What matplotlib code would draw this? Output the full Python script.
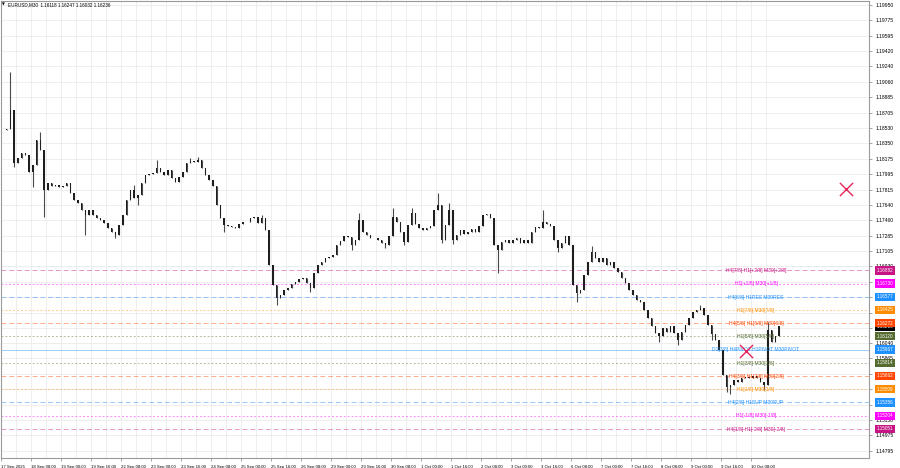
import numpy as np
import matplotlib
matplotlib.use("Agg")
import matplotlib.pyplot as plt
import matplotlib.transforms as mtransforms

# EURUSD, rebuilt as 2-hour bars (closes)
closes = [
    1.18505, 1.18517, 1.18736, 1.18124, 1.18182, 1.18239, 1.18216, 1.18020, 1.18101, 1.18390,
    1.18274, 1.17812, 1.17893, 1.17858, 1.17869, 1.17846, 1.17858, 1.17893, 1.17777, 1.17696,
    1.17661, 1.17580, 1.17523, 1.17580, 1.17523, 1.17488, 1.17465, 1.17430, 1.17372, 1.17326,
    1.17291, 1.17407, 1.17523, 1.17696, 1.17812, 1.17719, 1.17754, 1.17893, 1.17985, 1.17997,
    1.18008, 1.18066, 1.18020, 1.17985, 1.18043, 1.17950, 1.17904, 1.17962, 1.18020, 1.18124,
    1.18147, 1.18135, 1.18158, 1.18066, 1.17985, 1.17927, 1.17858, 1.17638, 1.17488, 1.17407,
    1.17395, 1.17384, 1.17372, 1.17419, 1.17442, 1.17442, 1.17488, 1.17500, 1.17430, 1.17488,
    1.17349, 1.16945, 1.16713, 1.16563, 1.16598, 1.16656, 1.16679, 1.16725, 1.16748, 1.16783,
    1.16794, 1.16737, 1.16679, 1.16852, 1.16945, 1.16979, 1.17026, 1.17037, 1.17060, 1.17176,
    1.17222, 1.17280, 1.17268, 1.17176, 1.17234, 1.17465, 1.17326, 1.17291, 1.17257, 1.17257,
    1.17234, 1.17199, 1.17176, 1.17280, 1.17500, 1.17442, 1.17326, 1.17211, 1.17407, 1.17546,
    1.17419, 1.17372, 1.17349, 1.17372, 1.17395, 1.17580, 1.17638, 1.17234, 1.17407, 1.17580,
    1.17234, 1.17291, 1.17349, 1.17303, 1.17326, 1.17361, 1.17326, 1.17395, 1.17523, 1.17534,
    1.17488, 1.17176, 1.17118, 1.17211, 1.17234, 1.17199, 1.17234, 1.17257, 1.17199, 1.17234,
    1.17199, 1.17326, 1.17384, 1.17372, 1.17442, 1.17419, 1.17395, 1.17234, 1.17141, 1.17199,
    1.17280, 1.17176, 1.16713, 1.16621, 1.16656, 1.16829, 1.16979, 1.17095, 1.17026, 1.16979,
    1.17026, 1.16945, 1.16979, 1.16910, 1.16864, 1.16794, 1.16737, 1.16656, 1.16598, 1.16540,
    1.16517, 1.16424, 1.16332, 1.16239, 1.16159, 1.16124, 1.16216, 1.16170, 1.16239, 1.16159,
    1.16078, 1.16170, 1.16251, 1.16332, 1.16401, 1.16424, 1.16448, 1.16367, 1.16251, 1.16147,
    1.16078, 1.15962, 1.15673, 1.15534, 1.15557, 1.15615, 1.15592, 1.15638, 1.15650, 1.15638,
    1.15661, 1.15638, 1.15592, 1.15557, 1.16193, 1.16055, 1.16124, 1.16236,
]
first_open = 1.18500

# wick extremes that stick out beyond the bodies
spike_highs = [(2, 1.19176), (10, 1.18482), (35, 1.17869), (41, 1.18158), (50, 1.18182),
               (52, 1.18193), (69, 1.17523), (95, 1.17546), (104, 1.17604), (109, 1.17604),
               (116, 1.17777), (119, 1.17661), (144, 1.17580), (157, 1.17164), (186, 1.16482),
               (204, 1.16286)]
spike_lows = [(3, 1.18077), (8, 1.17846), (11, 1.17500), (22, 1.17291), (30, 1.17257),
              (36, 1.17638), (59, 1.17326), (73, 1.16482), (82, 1.16632), (93, 1.17118),
              (102, 1.17141), (107, 1.17176), (117, 1.17199), (120, 1.17187), (132, 1.16852),
              (148, 1.17095), (153, 1.16517), (175, 1.16055), (180, 1.16020), (189, 1.16078),
              (193, 1.15476), (194, 1.15453), (203, 1.15500)]

time_labels = ["17 Sep 2025", "18 Sep 08:00", "19 Sep 00:00", "19 Sep 16:00", "22 Sep 08:00",
               "23 Sep 00:00", "23 Sep 16:00", "24 Sep 08:00", "25 Sep 00:00", "25 Sep 16:00",
               "26 Sep 08:00", "29 Sep 00:00", "29 Sep 16:00", "30 Sep 08:00", "1 Oct 00:00",
               "1 Oct 16:00", "2 Oct 08:00", "3 Oct 00:00", "3 Oct 16:00", "6 Oct 08:00",
               "7 Oct 00:00", "7 Oct 16:00", "8 Oct 08:00", "9 Oct 00:00", "9 Oct 16:00",
               "10 Oct 08:00"]

price_ticks = [1.19950, 1.19775, 1.19595, 1.19420, 1.19240, 1.19060, 1.18885, 1.18705,
               1.18530, 1.18350, 1.18175, 1.17995, 1.17815, 1.17640, 1.17460, 1.17285,
               1.17105, 1.16930, 1.16750, 1.16570, 1.16395, 1.16215, 1.16040, 1.15865,
               1.15685, 1.15510, 1.15330, 1.15150, 1.14975, 1.14795]
# ticks whose labels sit under the coloured price boxes
hidden_ticks = [1.16570, 1.16395, 1.16215, 1.15510, 1.15330]

# murrey-style levels
level_prices = [1.16882, 1.16730, 1.16577, 1.16425, 1.16272, 1.16120, 1.15967,
                1.15814, 1.15662, 1.15509, 1.15356, 1.15204, 1.15051]
level_names = ["H4[7/8] H1[+2/8] M30[+2/8]", "H1[+1/8] M30[+1/8]", "H4[6/8] H1RES M30RES",
               "H1[7/8] M30[7/8]", "H4[5/8] H1[6/8] M30[6/8]", "H1[5/8] M30[5/8]",
               "D1[3/8] H4PIVOT H1PIVOT M30PIVOT", "H1[3/8] M30[3/8]",
               "H4[3/8] H1[2/8] M30[2/8]", "H1[1/8] M30[1/8]", "H4[2/8] H1SUP M30SUP",
               "H1[-1/8] M30[-1/8]", "H4[1/8] H1[-2/8] M30[-2/8]"]
level_colors = ["#C71585", "#FF00FF", "#1E90FF", "#FF8C00", "#FF4500", "#556B2F", "#1E90FF",
                "#556B2F", "#FF4500", "#FF8C00", "#1E90FF", "#FF00FF", "#C71585"]
level_styles = [(0, (5, 3)), (0, (2, 2)), (0, (5, 3)), (0, (2, 2)), (0, (5, 3)), (0, (2, 2)), "-",
                (0, (2, 2)), (0, (5, 3)), (0, (2, 2)), (0, (5, 3)), (0, (2, 2)), (0, (5, 3))]

signal_bars = [198.2, 224.8]
signal_prices = [1.15950, 1.17823]

header = "EURUSD,M30  1.16118 1.16247 1.16032 1.16236"
last_price = 1.16236

W, H = 900, 468
fig = plt.figure(figsize=(W / 100, H / 100), dpi=100)
ax = fig.add_axes([1 / W, 10 / H, 868 / W, 457 / H])
ax.set_facecolor("white")

x = np.arange(len(closes))
c = np.array(closes)
o = np.concatenate([[first_open], c[:-1]])
hi = np.maximum(o, c)
lo = np.minimum(o, c)
for i, v in spike_highs:
    hi[i] = max(hi[i], v)
for i, v in spike_lows:
    lo[i] = min(lo[i], v)

ax.vlines(x, lo, hi, color="#4a4a4a", lw=0.8, zorder=4)
body_h = np.maximum(np.abs(c - o), 0.00004)
ax.bar(x, body_h, bottom=np.minimum(o, c), width=0.42, color="#1e1e1e",
       linewidth=0, zorder=5)

blend = mtransforms.blended_transform_factory(ax.transAxes, ax.transData)
for p, col, ls, name in zip(level_prices, level_colors, level_styles, level_names):
    ax.axhline(p, color=col, lw=0.7, ls=ls, alpha=0.45, zorder=2)
    ax.text(0.8698, p - 0.00003, name, transform=blend, ha="center", va="center", color=col,
            fontsize=3.6, family="Liberation Sans", zorder=6)

ax.scatter(signal_bars, signal_prices, marker="x", s=90, color="#E8245A", lw=1.0, zorder=7)

ax.set_xlim(-0.507, 230.96)
ax.set_ylim(1.14714, 1.19996)

tick_pos = [8 * k - 0.5 for k in range(len(time_labels))]
ax.set_xticks(tick_pos)
ax.set_xticklabels(time_labels, ha="left", fontsize=3.1, family="Liberation Sans")
ax.set_xticks([t + 4 for t in tick_pos], minor=True)
ax.yaxis.tick_right()
ax.set_yticks(price_ticks)
ax.set_yticklabels(["" if v in hidden_ticks else f"{v:.5f}" for v in price_ticks],
                   fontsize=3.6, family="Liberation Sans")
ax.tick_params(axis="both", length=2.2, width=0.5, color="#808080", pad=2.5)
ax.tick_params(axis="x", which="minor", length=0)
ax.grid(True, which="both", color="#ebebeb", lw=0.6, zorder=0)
ax.set_axisbelow(True)
for s in ax.spines.values():
    s.set_color("#9a9a9a")
    s.set_linewidth(0.8)

# price boxes in the right scale
ax.text(1.0092, last_price - 0.00004, f"{last_price:.5f}", transform=blend, ha="left",
        va="center", fontsize=3.3, family="Liberation Sans", color="white", zorder=8,
        clip_on=False, bbox=dict(boxstyle="square,pad=0.35", fc="black", ec="none"))
for p, col in zip(level_prices, level_colors):
    ax.text(1.0092, p, f"{p:.5f}", transform=blend, ha="left", va="center", fontsize=3.3,
            family="Liberation Sans", color="white", zorder=9, clip_on=False,
            bbox=dict(boxstyle="square,pad=0.35", fc=col, ec="none"))

fig.text(2 / W, 1 - 5 / H, "\u25bc", fontsize=2.6, va="center", family="DejaVu Sans")
fig.text(8 / W, 1 - 5 / H, header, fontsize=3.3, va="center", family="Liberation Sans")

fig.savefig("out.png", dpi=100, facecolor="white")
